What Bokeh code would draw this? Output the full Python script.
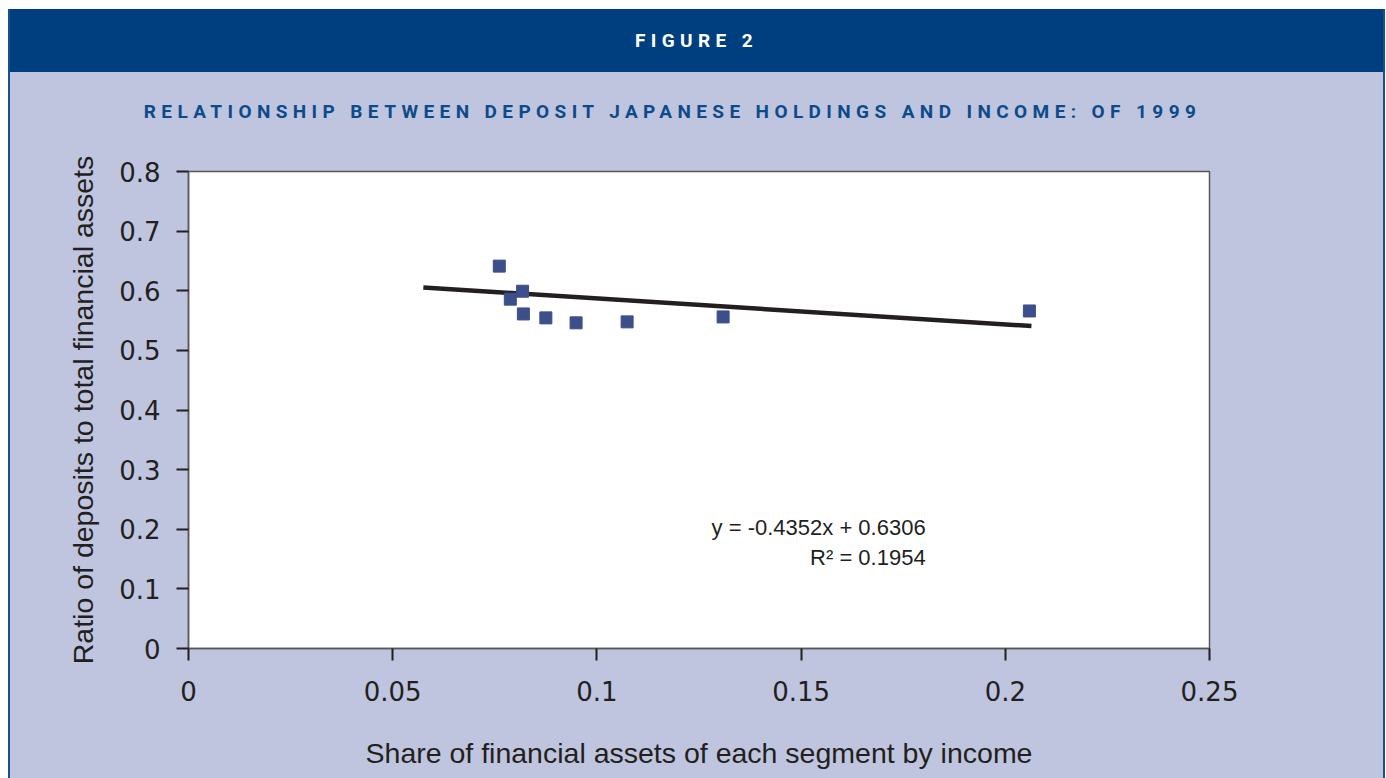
from bokeh.plotting import figure
from bokeh.models import Range1d, FixedTicker, Label, Div, ColumnDataSource
from bokeh.layouts import column
from bokeh.embed import file_html
from bokeh.resources import INLINE

# ---- data ----
share_x = [0.0761, 0.0818, 0.0788, 0.0820, 0.0875, 0.0949, 0.1074, 0.1309, 0.2059]
ratio_y = [0.6413, 0.5992, 0.5859, 0.5611, 0.5545, 0.5462, 0.5478, 0.5561, 0.5661]
trend_x = [0.0575, 0.2064]
trend_y = [0.6056, 0.5408]
x_ticks = [0, 0.05, 0.1, 0.15, 0.2, 0.25]
x_tick_labels = ["0", "0.05", "0.1", "0.15", "0.2", "0.25"]
y_ticks = [0, 0.1, 0.2, 0.3, 0.4, 0.5, 0.6, 0.7, 0.8]
y_tick_labels = ["0", "0.1", "0.2", "0.3", "0.4", "0.5", "0.6", "0.7", "0.8"]
equation_text = "y = -0.4352x + 0.6306"
r2_text = "R\u00b2 = 0.1954"
header_text = "FIGURE 2"
subtitle_text = "RELATIONSHIP BETWEEN DEPOSIT JAPANESE HOLDINGS AND INCOME: OF 1999"
x_label = "Share of financial assets of each segment by income"
y_label = "Ratio of deposits to total financial assets"

LAV = "#bfc5de"
HDR = "#003f7f"
SUB = "#0d4a8a"
BORDER = "#1a4e8e"
MARK = "#3d4f8a"
INK = "#231f20"
W = 1373

header = Div(text=header_text, width=W, height=63, margin=(0, 0, 0, 0),
             styles={"background-color": HDR, "color": "white", "font-family": "Roboto",
                     "font-weight": "bold", "font-size": "19px", "letter-spacing": "5.4px",
                     "text-align": "center", "line-height": "63px"})
sub = Div(text=subtitle_text, width=W, height=70, margin=(0, 0, 0, 0),
          styles={"background-color": LAV, "color": SUB, "font-family": "Roboto",
                  "font-weight": "bold", "font-size": "19px", "letter-spacing": "5.4px",
                  "text-align": "center", "line-height": "80px", "text-indent": "-48px"})

p = figure(width=W, height=636, output_backend="svg", toolbar_location=None,
           x_range=Range1d(0, 0.25), y_range=Range1d(0, 0.8),
           min_border_left=178, min_border_right=174, min_border_top=29, min_border_bottom=130,
           background_fill_color="white", border_fill_color=LAV, margin=(0, 0, 0, 0))
p.grid.visible = False
p.outline_line_color = "#58585a"
p.outline_line_width = 1.5

src = ColumnDataSource(dict(x=share_x, y=ratio_y))
tsrc = ColumnDataSource(dict(x=trend_x, y=trend_y))
p.line("x", "y", source=tsrc, line_color=INK, line_width=4.5)
p.scatter("x", "y", source=src, marker="square", size=12, fill_color=MARK, line_color=MARK)

for ax, ticks, labels in ((p.xaxis[0], x_ticks, x_tick_labels), (p.yaxis[0], y_ticks, y_tick_labels)):
    ax.ticker = FixedTicker(ticks=ticks)
    ax.major_label_overrides = {t: l for t, l in zip(ticks, labels)}
    ax.minor_tick_line_color = None
    ax.major_tick_in = 0
    ax.major_tick_out = 12
    ax.major_tick_line_color = INK
    ax.major_tick_line_width = 2
    ax.axis_line_color = "#58585a"
    ax.axis_line_width = 1.5
    ax.major_label_text_font = "DejaVu Sans"
    ax.major_label_text_font_size = "26px"
    ax.major_label_text_color = INK
    ax.axis_label_text_font = "Liberation Sans"
    ax.axis_label_text_font_size = "28.5px"
    ax.axis_label_text_font_style = "normal"
    ax.axis_label_text_color = INK

p.xaxis.axis_label = x_label
p.yaxis.axis_label = y_label
p.xaxis.major_label_standoff = 20
p.yaxis.major_label_standoff = 16
p.xaxis.axis_label_standoff = 33
p.yaxis.axis_label_standoff = 17

p.add_layout(Label(x=0.1805, y=0.203, text=equation_text, text_align="right", text_baseline="middle",
                   text_font="Liberation Sans", text_font_size="22px", text_color=INK))
p.add_layout(Label(x=0.1805, y=0.153, text=r2_text, text_align="right", text_baseline="middle",
                   text_font="Liberation Sans", text_font_size="22px", text_color=INK))

layout = column(header, sub, p, spacing=0, margin=(9, 0, 0, 8),
                styles={"border-left": "2px solid " + BORDER, "border-right": "2px solid " + BORDER,
                        "background-color": LAV})

open("out.html", "w").write(file_html(layout, INLINE))
